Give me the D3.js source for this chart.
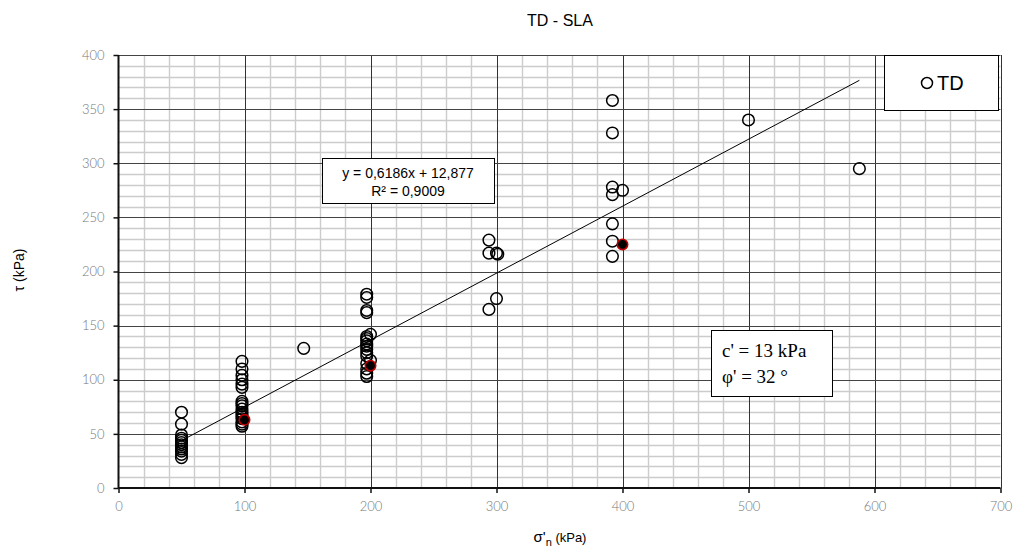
<!DOCTYPE html>
<html><head><meta charset="utf-8">
<script src="https://cdn.jsdelivr.net/npm/d3@7/dist/d3.min.js"></script>
<style>body{margin:0;background:#fff}svg{display:block}</style>
</head><body>
<svg id="c" width="1017" height="551"></svg>
<script>
// Data (σ'n kPa, τ kPa)
const sigmaN = [
  50,50,50,50,50,50,50,50,50,50,50,50,
  98,98,98,98,98,98,98,98,98,98,98,98,98,98,98,98,98,
  147,
  197,197,197,197,200,197,197,197,197,197,197,197,197,200,197,197,197,197,
  294,294,300,301,300,294,
  392,392,392,400,392,392,392,392,
  500,588
];
const tau = [
  70,59,49,46,44,42,40,38,36,34,31,28,
  117,110,104,100,96,93,80,78,76,73,70,68,66,64,61,59,57,
  129,
  179,176,164,162,142,140,138,136,133,131,128,125,122,118,115,110,106,103,
  229,217,217,216,175,165,
  358,328,278,275,271,244,228,214,
  340,295
];
const highlightX = [100,200,400];
const highlightY = [63,113,225];
const slope = 0.6186, intercept = 12.877;
const xTicks = [0,100,200,300,400,500,600,700];
const yTicks = [0,50,100,150,200,250,300,350,400];
const title = "TD - SLA";
const eqLines = ["y = 0,6186x + 12,877", "R² = 0,9009"];
const paramLines = ["c' = 13 kPa", "φ' = 32 °"];
const legendLabel = "TD";

const svg = d3.select("#c");
const L = 118.5, R = 1000.5, T = 55, B = 488;
const x = d3.scaleLinear().domain([0,700]).range([L,R]);
const y = d3.scaleLinear().domain([0,400]).range([B,T]);

// minor grid
const g = svg.append("g");
g.selectAll(".mx").data(d3.range(0,701,20).filter(v=>v%100!==0)).enter().append("line")
  .attr("x1",d=>Math.round(x(d))+0.5).attr("x2",d=>Math.round(x(d))+0.5).attr("y1",T).attr("y2",B)
  .attr("stroke","#cccccc").attr("stroke-width",1.4);
g.selectAll(".my").data(d3.range(0,401,10).filter(v=>v%50!==0)).enter().append("line")
  .attr("y1",d=>Math.round(y(d))+0.5).attr("y2",d=>Math.round(y(d))+0.5).attr("x1",L).attr("x2",R)
  .attr("stroke","#cccccc").attr("stroke-width",1.4);
// major grid
g.selectAll(".Mx").data(xTicks.slice(1)).enter().append("line")
  .attr("x1",d=>Math.round(x(d))+0.5).attr("x2",d=>Math.round(x(d))+0.5).attr("y1",T).attr("y2",B)
  .attr("stroke","#333").attr("stroke-width",1);
g.selectAll(".My").data(yTicks.slice(1)).enter().append("line")
  .attr("y1",d=>Math.round(y(d))+0.5).attr("y2",d=>Math.round(y(d))+0.5).attr("x1",L).attr("x2",R)
  .attr("stroke","#444").attr("stroke-width",1);

// axes
const xAxis = d3.axisBottom(x).tickValues(xTicks).tickSize(5).tickPadding(9);
const yAxis = d3.axisLeft(y).tickValues(yTicks).tickSize(5).tickPadding(9);
const ax = svg.append("g").attr("transform",`translate(0,${B})`).call(xAxis);
const ay = svg.append("g").attr("transform",`translate(${L},0)`).call(yAxis);
[ax,ay].forEach(a=>{
  a.select(".domain").attr("stroke","#111").attr("stroke-width",2);
  a.selectAll(".tick line").attr("stroke","#111").attr("stroke-width",1.5);
  a.selectAll("text").attr("fill","#777").style("font-family","Lato, sans-serif").style("font-weight","300").style("font-size","13px");
});
ax.select(".domain").attr("d",`M${L},0H${R}`);
ay.select(".domain").attr("d",`M0,${B}V${T}`);

// trend line
const xmin = d3.min(sigmaN), xmax = d3.max(sigmaN);
svg.append("line").attr("x1",x(xmin)).attr("y1",y(slope*xmin+intercept))
  .attr("x2",x(xmax)).attr("y2",y(slope*xmax+intercept)).attr("stroke","#000").attr("stroke-width",1);

// points
svg.append("g").selectAll("circle").data(sigmaN.map((s,i)=>[s,tau[i]])).enter().append("circle")
  .attr("cx",d=>x(d[0])).attr("cy",d=>y(d[1])).attr("r",5.8)
  .attr("fill","none").attr("stroke","#000").attr("stroke-width",1.5);
svg.append("g").selectAll("circle").data(highlightX.map((s,i)=>[s,highlightY[i]])).enter().append("circle")
  .attr("cx",d=>x(d[0])).attr("cy",d=>y(d[1])).attr("r",5.2)
  .attr("fill","#000").attr("stroke","#c00000").attr("stroke-width",1.6);

// equation box
svg.append("rect").attr("x",322.5).attr("y",158.5).attr("width",172).attr("height",45).attr("fill","#fff").attr("stroke","#000");
svg.append("g").selectAll("text").data(eqLines).enter().append("text")
  .attr("x",408).attr("y",(d,i)=>178+i*18).attr("text-anchor","middle")
  .style("font-family","Arial, 'Liberation Sans', sans-serif").style("font-size","14px").text(d=>d);

// params box
svg.append("rect").attr("x",711.5).attr("y",330.5).attr("width",121).attr("height",66).attr("fill","#fff").attr("stroke","#000");
svg.append("g").selectAll("text").data(paramLines).enter().append("text")
  .attr("x",722).attr("y",(d,i)=>357+i*26)
  .style("font-family","'Liberation Serif', 'Times New Roman', serif").style("font-size","19px").text(d=>d);

// legend
svg.append("rect").attr("x",884.5).attr("y",55.5).attr("width",114).attr("height",55).attr("fill","#fff").attr("stroke","#000");
svg.append("circle").attr("cx",927).attr("cy",83).attr("r",5.5).attr("fill","none").attr("stroke","#000").attr("stroke-width",1.5);
svg.append("text").attr("x",937).attr("y",90).style("font-family","Arial, 'Liberation Sans', sans-serif").style("font-size","20px").text(legendLabel);

// title
svg.append("text").attr("x",560).attr("y",26).attr("text-anchor","middle")
  .style("font-family","Arial, 'Liberation Sans', sans-serif").style("font-size","16px").text(title);

// axis titles
const xt = svg.append("text").attr("x",560).attr("y",542).attr("text-anchor","middle")
  .style("font-family","Arial, 'Liberation Sans', sans-serif").style("font-size","15px");
xt.append("tspan").text("σ'");
xt.append("tspan").attr("dy",4).style("font-size","11px").text("n");
xt.append("tspan").attr("dy",-4).style("font-size","13px").text(" (kPa)");
svg.append("text").attr("transform","translate(24,270) rotate(-90)").attr("text-anchor","middle")
  .style("font-family","Arial, 'Liberation Sans', sans-serif").style("font-size","14px").text("τ (kPa)");
</script>
</body></html>
